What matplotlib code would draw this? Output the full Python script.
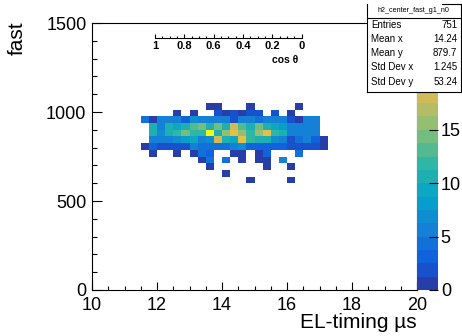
import numpy as np
import matplotlib
matplotlib.use('Agg')
import matplotlib.pyplot as plt
from matplotlib.colors import LinearSegmentedColormap, ListedColormap, BoundaryNorm
from matplotlib.ticker import MultipleLocator, FixedLocator
from matplotlib.lines import Line2D
import matplotlib.cm as cm

plt.rcParams['font.family'] = ['Liberation Sans', 'DejaVu Sans']

# ---------------- data ----------------
x_range = (10.0, 20.0)
n_xbins = 40
y_range = (0.0, 1500.0)
n_ybins = 40
first_xbin = 6      # x bin index of first column in counts_rows
top_ybin = 27       # y bin index of first row in counts_rows (rows go downward)

counts_rows = [
    [0, 0, 0, 0, 0, 0, 0, 0, 1, 1, 0, 0, 0, 1, 0, 0, 0, 0, 0, 1, 0, 0, 0, 0],
    [0, 0, 0, 0, 1, 0, 1, 0, 0, 2, 1, 2, 1, 2, 2, 0, 2, 0, 1, 0, 0, 0, 0, 0],
    [4, 1, 5, 5, 5, 3, 7, 5, 5, 5, 5, 2, 5, 5, 4, 5, 5, 5, 2, 1, 5, 5, 0, 0],
    [0, 10, 6, 11, 9, 11, 13, 14, 11, 14, 10, 18, 13, 11, 14, 11, 9, 8, 6, 5, 5, 5, 0, 0],
    [0, 11, 7, 11, 12, 14, 12, 12, 25, 11, 15, 19, 15, 12, 15, 19, 12, 10, 6, 5, 5, 5, 0, 0],
    [0, 5, 6, 6, 7, 8, 9, 6, 7, 18, 11, 9, 19, 12, 11, 11, 7, 6, 2, 4, 5, 3, 1, 0],
    [1, 3, 2, 2, 2, 2, 5, 4, 4, 4, 4, 5, 7, 3, 3, 3, 3, 3, 2, 2, 2, 2, 1, 0],
    [0, 1, 0, 0, 1, 0, 1, 4, 3, 0, 0, 1, 1, 0, 1, 3, 0, 0, 0, 4, 0, 0, 0, 0],
    [0, 0, 0, 0, 0, 0, 0, 1, 4, 0, 4, 0, 1, 0, 1, 1, 0, 5, 0, 0, 0, 0, 0, 0],
    [0, 0, 0, 0, 0, 0, 0, 0, 1, 0, 0, 0, 0, 0, 0, 1, 0, 0, 1, 0, 0, 0, 0, 0],
    [0, 0, 0, 0, 0, 0, 0, 0, 0, 0, 1, 0, 0, 0, 0, 0, 0, 0, 0, 0, 0, 0, 0, 0],
    [0, 0, 0, 0, 0, 0, 0, 0, 0, 0, 0, 0, 0, 1, 0, 0, 0, 0, 1, 0, 0, 0, 0, 0],
]

z_max = 25
n_contours = 20
z_ticks = [0, 5, 10, 15, 20, 25]
z_labels = ['0', '5', '10', '15', '', '']   # 20 and 25 lie under the stats box

x_ticks = [10, 12, 14, 16, 18, 20]
y_ticks = [0, 500, 1000, 1500]

stats_labels = ['Entries', 'Mean x', 'Mean y', 'Std Dev x', 'Std Dev y']
stats_values = ['751', '14.24', '879.7', '1.245', '53.24']
hist_name = 'h2_center_fast_g1_n0'
x_title = 'EL-timing \u00b5s'
y_title = 'fast'
cos_ticks = [1, 0.8, 0.6, 0.4, 0.2, 0]
cos_labels = ['1', '0.8', '0.6', '0.4', '0.2', '0']
cos_title = 'cos \u03b8'

# ROOT kBird palette
bird_stops = [0.0, 0.125, 0.25, 0.375, 0.5, 0.625, 0.75, 0.875, 1.0]
bird_r = [0.2082, 0.0592, 0.0780, 0.0232, 0.1802, 0.5301, 0.8186, 0.9956, 0.9764]
bird_g = [0.1664, 0.3599, 0.5041, 0.6419, 0.7178, 0.7492, 0.7328, 0.7862, 0.9832]
bird_b = [0.5293, 0.8684, 0.8385, 0.7914, 0.6425, 0.4662, 0.3499, 0.1968, 0.0539]

# ---------------- build histogram ----------------
H = np.zeros((n_ybins, n_xbins))
for i, row in enumerate(counts_rows):
    yb = top_ybin - i
    H[yb, first_xbin:first_xbin + len(row)] = row
xe = np.linspace(x_range[0], x_range[1], n_xbins + 1)
ye = np.linspace(y_range[0], y_range[1], n_ybins + 1)

base = LinearSegmentedColormap.from_list(
    'kBird', list(zip(bird_stops, zip(bird_r, bird_g, bird_b))), N=255)
# ROOT picks colour index int((k + 0.99) * ncolors / ndiv) for contour k
contour_colors = [base(min(int((k + 0.99) * 255 / n_contours), 254) / 254.0)
                  for k in range(n_contours)]
cmap = ListedColormap(contour_colors)
norm = BoundaryNorm(np.linspace(0, z_max, n_contours + 1), n_contours, clip=True)

W, Hpx = 462, 336
fig = plt.figure(figsize=(W / 100, Hpx / 100), dpi=100)

def fx(px):
    return px / W

def fy(py):
    return 1 - py / Hpx

ax_l, ax_r, ax_t, ax_b = 92, 417, 23, 290
ax = fig.add_axes([fx(ax_l), fy(ax_b), fx(ax_r - ax_l), (ax_b - ax_t) / Hpx])
ax.pcolormesh(xe, ye, np.ma.masked_equal(H, 0), cmap=cmap, norm=norm,
              shading='flat', antialiased=False, edgecolors='none', linewidth=0)
ax.set_xlim(*x_range)
ax.set_ylim(*y_range)
for s in ax.spines.values():
    s.set_linewidth(0.8)
ax.xaxis.set_major_locator(FixedLocator(x_ticks))
ax.xaxis.set_minor_locator(MultipleLocator(0.5))
ax.yaxis.set_major_locator(FixedLocator(y_ticks))
ax.yaxis.set_minor_locator(MultipleLocator(100))
ax.tick_params(axis='x', which='major', direction='in', length=5.8, width=0.8,
               labelsize=13, pad=5, top=False)
ax.tick_params(axis='x', which='minor', direction='in', length=2.9, width=0.8, top=False)
ax.tick_params(axis='y', which='major', direction='in', length=7.2, width=0.8,
               labelsize=13, pad=4, right=False)
ax.tick_params(axis='y', which='minor', direction='in', length=3.6, width=0.8, right=False)
ax.set_xticklabels([str(t) for t in x_ticks])
ax.set_yticklabels([str(t) for t in y_ticks])

ax.text(1.0, (ax_b - 323) / (ax_b - ax_t), x_title, transform=ax.transAxes,
        ha='right', va='center', fontsize=15)
ax.text((17.5 - ax_l) / (ax_r - ax_l), (ax_b - 21) / (ax_b - ax_t), y_title,
        transform=ax.transAxes, rotation=90, ha='center', va='top', fontsize=15)

# colour bar
cax = fig.add_axes([fx(417), fy(ax_b), fx(438 - 417), (ax_b - ax_t) / Hpx])
sm = cm.ScalarMappable(norm=norm, cmap=cmap)
cb = fig.colorbar(sm, cax=cax, ticks=z_ticks)
cb.outline.set_visible(False)
cax.minorticks_off()
cax.tick_params(direction='in', length=6.5, width=0.8, labelsize=13, pad=2,
                right=True, left=False)
cax.set_yticklabels(z_labels)

# cos theta inset axis
cos_l, cos_r, cos_y = 155, 301.7, 38.3
cx = fig.add_axes([fx(cos_l), fy(cos_y), fx(cos_r - cos_l), 0.02])
cx.set_xlim(1, 0)
cx.set_facecolor('none')
for k in ['top', 'left', 'right']:
    cx.spines[k].set_visible(False)
cx.spines['bottom'].set_linewidth(0.8)
cx.set_yticks([])
cx.xaxis.set_major_locator(FixedLocator(cos_ticks))
cx.xaxis.set_minor_locator(MultipleLocator(0.05))
cx.set_xticklabels(cos_labels, fontweight='bold')
cx.tick_params(axis='x', which='major', direction='in', length=3.0, width=0.8,
               labelsize=8, pad=2)
cx.tick_params(axis='x', which='minor', direction='in', length=1.6, width=0.8)
fig.text(fx(298), fy(60), cos_title, ha='right', va='center', fontsize=7.5,
         fontweight='bold')

# stats box
sb_l, sb_r, sb_t, sb_b = 367.3, 460.5, 4.0, 91.7
sax = fig.add_axes([fx(sb_l), fy(sb_b), fx(sb_r - sb_l), (sb_b - sb_t) / Hpx])
sax.set_xlim(0, 1)
sax.set_ylim(0, 1)
sax.set_xticks([])
sax.set_yticks([])
sax.set_facecolor('white')
sax.spines['top'].set_visible(False)
for k in ['left', 'right', 'bottom']:
    sax.spines[k].set_linewidth(0.8)
sax.add_line(Line2D([(441.7 - sb_l) / (sb_r - sb_l), 1], [1, 1], color='black',
                    lw=0.8, clip_on=False))
sep_y = 1 - (17.7 - sb_t) / (sb_b - sb_t)
sax.add_line(Line2D([0, 1], [sep_y, sep_y], color='black', lw=0.8))
sax.text(0.5, 1 - (10.5 - sb_t) / (sb_b - sb_t), hist_name, ha='center',
         va='center', fontsize=5.2)
row_py = [25.0, 39.2, 53.3, 67.5, 81.7]
for lab, val, py in zip(stats_labels, stats_values, row_py):
    yy = 1 - (py - sb_t) / (sb_b - sb_t)
    sax.text(0.045, yy, lab, ha='left', va='center', fontsize=7)
    sax.text(0.965, yy, val, ha='right', va='center', fontsize=7)

fig.savefig('out.png', dpi=100)
